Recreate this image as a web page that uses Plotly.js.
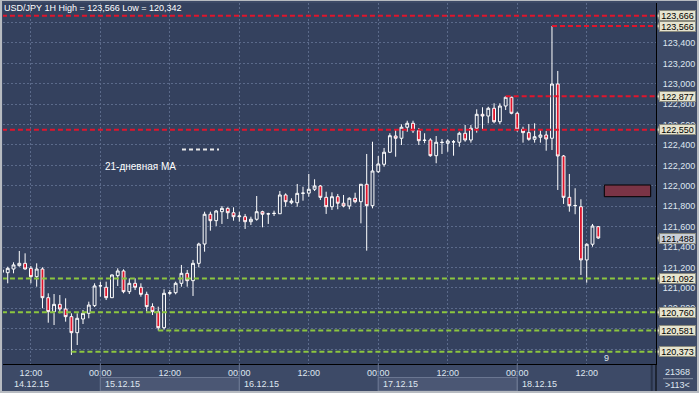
<!DOCTYPE html>
<html><head><meta charset="utf-8">
<script src="https://cdn.plot.ly/plotly-3.0.1.min.js"></script>
<style>
html,body{margin:0;padding:0;background:#b7bbc1;width:699px;height:393px;overflow:hidden;}
#chart{position:absolute;left:2px;top:1px;width:695px;height:390px;}
</style></head><body><div id="chart"></div>
<script>
// ---- data (USD/JPY, 1H candles starting 14.12.15 07:00) ----
const startTime = '2015-12-14T07:00:00';
const opens = [121.152,121.148,121.184,121.217,121.240,121.191,121.109,121.184,120.903,120.766,
120.838,120.792,120.717,120.560,120.694,120.750,120.825,121.018,121.005,120.903,
121.119,121.165,120.962,121.044,121.005,120.936,120.815,120.766,120.609,120.946,
120.952,121.044,121.142,121.070,121.240,121.429,121.721,121.658,121.746,121.779,
121.736,121.697,121.697,121.648,121.672,121.746,121.726,121.728,121.726,121.910,
121.834,121.834,121.926,121.928,121.966,121.998,121.887,121.795,121.893,121.829,
121.802,121.878,121.844,122.015,121.805,122.138,122.211,122.329,122.488,122.466,
122.574,122.613,122.540,122.444,122.449,122.295,122.427,122.417,122.432,122.427,
122.515,122.449,122.564,122.701,122.684,122.760,122.628,122.782,122.868,122.711,
122.554,122.521,122.456,122.476,122.498,122.466,122.998,122.292,121.887,121.805,
121.795,121.273,121.427,121.599];
const highs = [121.194,121.207,121.250,121.361,121.338,121.214,121.240,121.201,120.946,120.939,
120.929,120.897,120.750,120.750,120.782,120.864,121.044,121.060,121.060,121.130,
121.191,121.181,121.093,121.093,121.044,120.962,120.848,120.815,120.985,120.978,
121.060,121.224,121.175,121.273,121.442,121.746,121.746,121.763,121.802,121.789,
121.789,121.746,121.724,121.697,121.900,121.756,121.736,121.756,121.949,121.926,
121.878,122.018,121.991,122.116,122.064,122.008,121.942,121.936,121.920,121.910,
121.887,121.932,122.016,122.312,122.432,122.292,122.371,122.515,122.547,122.603,
122.638,122.638,122.567,122.515,122.466,122.488,122.459,122.456,122.449,122.530,
122.596,122.596,122.750,122.770,122.775,122.809,122.809,122.877,122.873,122.726,
122.579,122.606,122.613,122.547,122.537,123.566,123.126,122.302,122.116,121.976,
121.868,121.436,121.626,121.606];
const lows = [121.135,121.044,121.142,121.207,121.179,121.044,121.011,120.799,120.658,120.635,
120.750,120.668,120.342,120.439,120.645,120.701,120.812,120.913,120.880,120.900,
121.018,120.946,120.939,120.978,120.913,120.766,120.733,120.581,120.590,120.929,
120.936,121.011,121.011,120.920,121.201,121.354,121.560,121.606,121.626,121.675,
121.658,121.648,121.577,121.616,121.658,121.593,121.626,121.704,121.726,121.795,
121.819,121.795,121.854,121.893,121.949,121.861,121.724,121.763,121.770,121.789,
121.770,121.829,121.632,121.364,121.779,122.126,122.187,122.322,122.285,122.400,
122.530,122.518,122.400,122.417,122.285,122.221,122.312,122.334,122.295,122.383,
122.432,122.423,122.521,122.554,122.613,122.613,122.606,122.743,122.701,122.530,
122.423,122.442,122.423,122.423,122.344,122.351,121.959,121.822,121.746,121.721,
121.126,121.050,121.403,121.480];
const closes = [121.175,121.191,121.224,121.240,121.184,121.109,121.184,120.903,120.766,120.838,
120.792,120.717,120.560,120.701,120.750,120.831,121.018,121.020,120.903,121.126,
121.165,120.962,121.044,121.005,120.936,120.815,120.766,120.609,120.946,120.952,
121.044,121.142,121.070,121.240,121.429,121.721,121.658,121.753,121.779,121.736,
121.697,121.704,121.648,121.672,121.746,121.721,121.724,121.730,121.910,121.844,
121.851,121.926,121.928,121.966,121.998,121.887,121.795,121.893,121.829,121.802,
121.878,121.844,122.015,121.805,122.145,122.214,122.329,122.491,122.466,122.574,
122.613,122.540,122.442,122.447,122.295,122.427,122.425,122.439,122.430,122.515,
122.449,122.564,122.701,122.684,122.760,122.628,122.782,122.868,122.711,122.554,
122.521,122.456,122.481,122.498,122.459,122.998,122.292,121.887,121.805,121.807,
121.273,121.427,121.606,121.488];

const levelValues = [123.666, 123.566, 122.877, 122.550, 121.092, 120.760, 120.581, 120.373];
const levelKinds  = ['r','r','r','r','g','g','g','g'];
const levelStarts = ['2015-12-14 07:00','2015-12-18 06:00','2015-12-17 22:00','2015-12-14 07:00',
                     '2015-12-14 07:00','2015-12-14 07:00','2015-12-15 10:00','2015-12-14 19:00'];
const lastPrice = 121.488;
const dayStarts = ['2015-12-14','2015-12-15','2015-12-16','2015-12-17','2015-12-18','2015-12-19'];
const dayLabels = ['14.12.15','15.12.15','16.12.15','17.12.15','18.12.15'];
const titleText = 'USD/JPY 1H High = 123,566 Low = 120,342';
const legendText = '21-дневная MA';
const barCountText = '21368';
const scaleText = '>113<';

// ---- times ----
function pad(n){return (n<10?'0':'')+n;}
const t0 = new Date(startTime+'Z').getTime();
const times = opens.map((_,i)=>{const d=new Date(t0+i*3600000);
  return d.getUTCFullYear()+'-'+pad(d.getUTCMonth()+1)+'-'+pad(d.getUTCDate())+' '+pad(d.getUTCHours())+':00';});

// ---- style ----
const FONT = 'Liberation Sans, Arial, sans-serif';
const TXT = '#dfe6f0';
const PLOTBG = '#34415e';
const PAPERBG = '#3d4a67';
const RED = '#e0152c';
const GREEN = '#8cc63f';
const xRange = ['2015-12-14 07:11','2015-12-18 23:58'];
const yRange = [120.253, 123.792];
const plotW = 653, plotH = 361;
const px = p => p/plotW;           // px -> paper x
const py = p => p/plotH;           // px -> paper y
const vpx = (yRange[1]-yRange[0])/plotH;

const fmt = v => v.toFixed(3).replace('.', ',');

const shapes = [];
const annotations = [];

// horizontal levels
levelValues.forEach((v,i)=>{
  shapes.push({type:'line', xref:'x', yref:'y', x0:levelStarts[i], x1:xRange[1], y0:v, y1:v,
    line:{color: levelKinds[i]==='r'?RED:GREEN, width:2, dash:'5px,3px'}, layer:'above'});
});

// right-side price markers
const markers = levelValues.map(v=>({v:v, bg:'#e6e4cf'})).concat([{v:lastPrice, bg:'#c9ced6'}]);
markers.forEach(m=>{
  const xt = 1 + px(1.5), xb = 1 + px(3.5);
  shapes.push({type:'path', xref:'paper', yref:'y',
    path:`M ${xt},${m.v} L ${xb},${m.v+4.5*vpx} L ${xb},${m.v-4.5*vpx} Z`,
    fillcolor:m.bg, line:{color:'#8a8a7e', width:1}, layer:'above'});
  annotations.push({xref:'paper', yref:'y', x:1+px(3), y:m.v, xanchor:'left', yanchor:'middle',
    text:fmt(m.v), showarrow:false, font:{family:FONT, size:9, color:'#000'},
    bgcolor:m.bg, bordercolor:'#8a8a7e', borderwidth:1, borderpad:0, width:35, height:9});
});

// bottom panel: day separators, shaded day boxes, day labels
for(let i=0;i<dayLabels.length;i++){
  if(i>0){
    shapes.push({type:'line', xref:'x', yref:'paper', x0:dayStarts[i], x1:dayStarts[i], y0:0, y1:-py(27),
      line:{color:'#6a7691', width:1}, layer:'above'});
  }
  if(i%2===1){
    shapes.push({type:'rect', xref:'x', yref:'paper', x0:dayStarts[i], x1:dayStarts[i+1], y0:-py(13.5), y1:-py(27),
      fillcolor:'#4b5774', line:{color:'#6a7691', width:1}, layer:'above'});
  }
  const lx = i===0 ? '2015-12-14 08:45' : dayStarts[i]+' 00:00';
  annotations.push({xref:'x', yref:'paper', x:lx, y:-py(19.8), xanchor:'left', yanchor:'middle',
    xshift: i===0?0:3, text:dayLabels[i], showarrow:false, font:{family:FONT, size:9, color:TXT}});
}

// right axis line continued into bottom panel, small separator
shapes.push({type:'line', xref:'paper', yref:'paper', x0:1, x1:1, y0:0, y1:-py(28), line:{color:'#000', width:1}, layer:'above'});
shapes.push({type:'line', xref:'paper', yref:'paper', x0:1-px(4.3), x1:1-px(4.3), y0:-py(1), y1:-py(28), line:{color:'#283248', width:2}, layer:'above'});
shapes.push({type:'line', xref:'paper', yref:'paper', x0:1+px(7), x1:1+px(37), y0:-py(14.7), y1:-py(14.7), line:{color:'#8a94a8', width:1}, layer:'above'});
annotations.push({xref:'paper', yref:'paper', x:1+px(21.5), y:-py(8), xanchor:'center', yanchor:'middle',
  text:barCountText, showarrow:false, font:{family:FONT, size:9, color:TXT}});
annotations.push({xref:'paper', yref:'paper', x:1+px(21.5), y:-py(21.3), xanchor:'center', yanchor:'middle',
  text:scaleText, showarrow:false, font:{family:FONT, size:9, color:TXT}});

// legend text and dashed sample
annotations.push({xref:'paper', yref:'paper', x:px(99.7), y:py(198), xanchor:'left', yanchor:'middle',
  text:legendText, showarrow:false, font:{family:FONT, size:10, color:'#ffffff'}});
shapes.push({type:'line', xref:'paper', yref:'paper', x0:px(179), x1:px(216), y0:py(214.5), y1:py(214.5),
  line:{color:'#e8e8e8', width:2, dash:'4px,3px'}, layer:'above'});

// dark red box
shapes.push({type:'rect', xref:'paper', yref:'paper', x0:px(601.3), x1:px(647.7), y0:py(179), y1:py(167.3),
  fillcolor:'#7a3446', line:{color:'#000', width:1}, layer:'above'});
annotations.push({xref:'paper', yref:'paper', x:px(603), y:py(6), xanchor:'center', yanchor:'middle',
  text:'9', showarrow:false, font:{family:FONT, size:9, color:TXT}});

const trace = {
  type:'candlestick', x:times, open:opens, high:highs, low:lows, close:closes,
  increasing:{line:{color:'#ffffff', width:1}, fillcolor:PLOTBG},
  decreasing:{line:{color:'#ffffff', width:1}, fillcolor:RED},
  whiskerwidth:0, hoverinfo:'skip', showlegend:false
};

const layout = {
  width:695, height:390,
  margin:{l:1, r:41, t:2, b:27, pad:0},
  paper_bgcolor:PAPERBG, plot_bgcolor:PLOTBG,
  separators:', ',
  showlegend:false, hovermode:false,
  title:{text:titleText, x:0.003, xanchor:'left', y:1-6.5/390, yanchor:'middle', xref:'container', yref:'container',
    font:{family:FONT, size:9, color:'#ffffff'}},
  xaxis:{type:'date', range:xRange, tick0:'2015-12-14 00:00', dtick:43200000, tickformat:'%H:%M',
    showgrid:true, gridcolor:'#5b6a8a', griddash:'2px,2px', gridwidth:1,
    ticks:'', showline:true, linecolor:'#000', linewidth:1, zeroline:false,
    tickfont:{family:FONT, size:9, color:TXT}, rangeslider:{visible:false}, fixedrange:true},
  yaxis:{side:'right', range:yRange, tick0:120, dtick:0.2, tickformat:'.3f',
    showgrid:true, gridcolor:'#5b6a8a', griddash:'2px,2px', gridwidth:1,
    ticks:'', ticklabelstandoff:4, showline:true, linecolor:'#000', linewidth:1, zeroline:false,
    tickfont:{family:FONT, size:9, color:TXT}, fixedrange:true},
  shapes:shapes, annotations:annotations
};

Plotly.newPlot('chart', [trace], layout, {staticPlot:true, displayModeBar:false});
</script></body></html>
